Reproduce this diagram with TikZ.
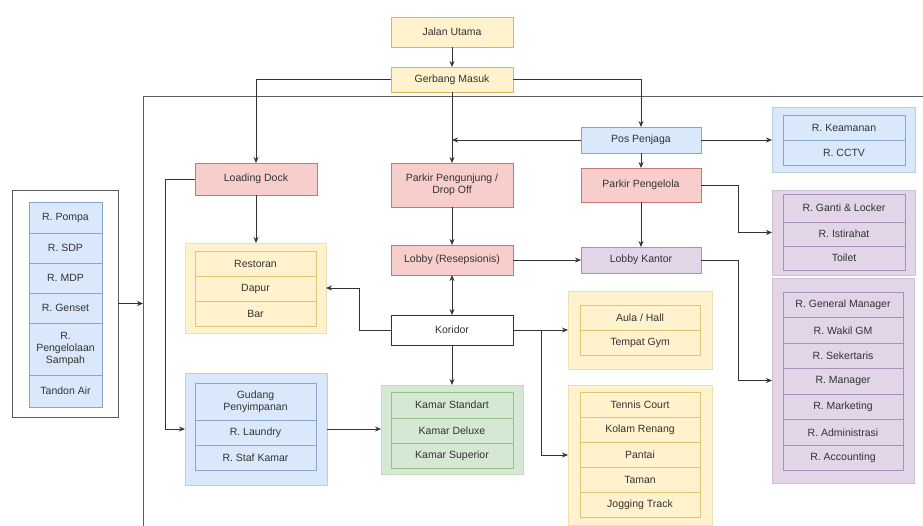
\documentclass[tikz,border=0pt]{standalone}
\usepackage{fontspec}
\setmainfont{Liberation Sans}
\usetikzlibrary{arrows.meta}
\definecolor{txt}{HTML}{333333}
\definecolor{ln}{HTML}{333333}
\definecolor{yF}{HTML}{FFF2CC}\definecolor{yS}{HTML}{D6B656}
\definecolor{pF}{HTML}{F8CECC}\definecolor{pS}{HTML}{B85450}
\definecolor{bF}{HTML}{DAE8FC}\definecolor{bS}{HTML}{6C8EBF}
\definecolor{gF}{HTML}{D5E8D4}\definecolor{gS}{HTML}{82B366}
\definecolor{uF}{HTML}{E1D5E7}\definecolor{uS}{HTML}{9673A6}
\newcommand\boxat[7]{\node[#6, minimum width={(#4-#2)*1pt}, minimum height={(#5-#3)*1pt}] (#1) at ({(#2+#4)/2},{(#3+#5)/2}) {#7};}
\tikzset{
  mybase/.style={rectangle, inner sep=1pt, outer sep=0pt, font=\fontsize{10.5}{12}\selectfont, text=txt, align=center, line width=0.8pt},
  mygrp/.style={rectangle, inner sep=0pt, outer sep=0pt, line width=0.8pt},
  ybox/.style={mybase, draw=yS, fill=yF},
  pbox/.style={mybase, draw=pS!80, fill=pF},
  bbox/.style={mybase, draw=bS!80, fill=bF},
  ubox/.style={mybase, draw=uS!80, fill=uF},
  wbox/.style={mybase, draw=ln, fill=white},
  yrowbox/.style={mybase, draw=yS!80, fill=yF},
  browbox/.style={mybase, draw=bS!80, fill=bF},
  growbox/.style={mybase, draw=gS!80, fill=gF},
  urowbox/.style={mybase, draw=uS!80, fill=uF},
  ygrp/.style={mygrp, draw=yS!45, fill=yF},
  bgrp/.style={mygrp, draw=bS!45, fill=bF},
  ggrp/.style={mygrp, draw=gS!45, fill=gF},
  ugrp/.style={mygrp, draw=uS!45, fill=uF},
  wgrp/.style={mygrp, draw=ln!80, fill=white},
  arr/.style={draw=ln, line width=0.8pt, -{Stealth[length=6pt,width=5pt]}},
  arrb/.style={draw=ln, line width=0.8pt, {Stealth[length=6pt,width=5pt]}-{Stealth[length=6pt,width=5pt]}},
  framel/.style={draw=ln!80, line width=1pt}
}
\begin{document}
\begin{tikzpicture}[x=1pt,y=-1pt]
\useasboundingbox (0,0) rectangle (923,526);
\clip (0,0) rectangle (923,526);
\fill[white] (0,0) rectangle (923,526);
% main frame
\draw[framel] (143,97) rectangle (960,580);
\coordinate (frameL) at (143,303.5);
% top
\boxat{jalan}{391}{17}{513}{47}{ybox}{Jalan Utama}
\boxat{gerbang}{391}{67}{513}{92}{ybox}{Gerbang Masuk}
% pos column
\boxat{pos}{581}{127}{701}{153}{bbox}{Pos Penjaga}
\boxat{parkirpl}{581}{168}{701}{202}{pbox}{Parkir Pengelola}
\boxat{lk}{581}{247}{701}{273}{ubox}{Lobby Kantor}
% keamanan group
\boxat{keam}{772}{107}{915}{172}{bgrp}{}
\boxat{keam1}{783}{115}{905}{140}{browbox}{R. Keamanan}
\boxat{keam2}{783}{140}{905}{165}{browbox}{R. CCTV}
% purple group 1
\boxat{ung1}{772}{190}{915}{275}{ugrp}{}
\boxat{ung1a}{783}{194}{905}{222}{urowbox}{R. Ganti \& Locker}
\boxat{ung1b}{783}{222}{905}{246}{urowbox}{R. Istirahat}
\boxat{ung1c}{783}{246}{905}{270}{urowbox}{Toilet}
% purple group 2
\boxat{ung2}{772}{278}{914}{483}{ugrp}{}
\boxat{ung2a}{783}{292}{903}{317.5}{urowbox}{R. General Manager}
\boxat{ung2b}{783}{317.5}{903}{343}{urowbox}{R. Wakil GM}
\boxat{ung2c}{783}{343}{903}{368.5}{urowbox}{R. Sekertaris}
\boxat{ung2d}{783}{368.5}{903}{394}{urowbox}{R. Manager}
\boxat{ung2e}{783}{394}{903}{419.5}{urowbox}{R. Marketing}
\boxat{ung2f}{783}{419.5}{903}{445}{urowbox}{R. Administrasi}
\boxat{ung2g}{783}{445}{903}{470}{urowbox}{R. Accounting}
% center column
\boxat{parkirpg}{391}{163}{513}{207}{pbox}{Parkir Pengunjung /\\Drop Off}
\boxat{lobby}{391}{245}{513}{275}{pbox}{Lobby (Resepsionis)}
\boxat{koridor}{391}{315}{513}{345}{wbox}{Koridor}
% left column
\boxat{loading}{195}{163}{317}{195}{pbox}{Loading Dock}
\boxat{rest}{185}{243}{326}{333}{ygrp}{}
\boxat{rest1}{195}{251}{316}{276}{yrowbox}{Restoran}
\boxat{rest2}{195}{276}{316}{301}{yrowbox}{Dapur}
\boxat{rest3}{195}{301}{316}{326}{yrowbox}{Bar}
\boxat{gudang}{185}{373}{327}{485}{bgrp}{}
\boxat{gud1}{195}{383}{316}{420}{browbox}{Gudang\\Penyimpanan}
\boxat{gud2}{195}{420}{316}{445}{browbox}{R. Laundry}
\boxat{gud3}{195}{445}{316}{470}{browbox}{R. Staf Kamar}
% kamar
\boxat{kamar}{381}{385}{523}{474}{ggrp}{}
\boxat{kam1}{391}{392}{513}{418}{growbox}{Kamar Standart}
\boxat{kam2}{391}{418}{513}{443}{growbox}{Kamar Deluxe}
\boxat{kam3}{391}{443}{513}{468}{growbox}{Kamar Superior}
% aula & tenis
\boxat{aula}{568}{291}{712}{369}{ygrp}{}
\boxat{aula1}{580}{305}{700}{330}{yrowbox}{Aula / Hall}
\boxat{aula2}{580}{330}{700}{355}{yrowbox}{Tempat Gym}
\boxat{tenis}{568}{385}{712}{525}{ygrp}{}
\boxat{ten1}{580}{392}{700}{417}{yrowbox}{Tennis Court}
\boxat{ten2}{580}{417}{700}{442}{yrowbox}{Kolam Renang}
\boxat{ten3}{580}{442}{700}{467}{yrowbox}{Pantai}
\boxat{ten4}{580}{467}{700}{492}{yrowbox}{Taman}
\boxat{ten5}{580}{492}{700}{517}{yrowbox}{Jogging Track}
% utilities
\boxat{util}{12}{190}{118}{417}{wgrp}{}
\boxat{ut1}{29}{202}{102}{233}{browbox}{R. Pompa}
\boxat{ut2}{29}{233}{102}{263}{browbox}{R. SDP}
\boxat{ut3}{29}{263}{102}{293}{browbox}{R. MDP}
\boxat{ut4}{29}{293}{102}{323}{browbox}{R. Genset}
\boxat{ut5}{29}{323}{102}{375}{browbox}{R.\\Pengelolaan\\Sampah}
\boxat{ut6}{29}{375}{102}{407}{browbox}{Tandon Air}
% bend coordinates
\coordinate (bendA) at (738,0);
\coordinate (bendL) at (165,0);
\coordinate (bendR) at (359,0);
\coordinate (bendT) at (541,0);
% connectors
\draw[arr] (jalan) -- (gerbang);
\draw[arr] (gerbang.west) -| (loading.north);
\draw[arr] (gerbang.east) -| (pos.north);
\draw[arr] (gerbang.south) -- (parkirpg.north);
\draw[arr] (pos.west) -- (pos.west -| gerbang.south);
\draw[arr] (pos.east) -- (pos.east -| keam.west);
\draw[arr] (pos) -- (parkirpl);
\draw[arr] (parkirpl.east) -| (bendA |- ung1.west) -- (ung1.west);
\draw[arr] (parkirpl) -- (lk);
\draw[arr] (lk.east) -| (bendA |- ung2.west) -- (ung2.west);
\draw[arr] (loading.west) -| (bendL |- gudang.west) -- (gudang.west);
\draw[arr] (loading.south) -- (loading.south |- rest.north);
\draw[arr] (parkirpg) -- (lobby);
\draw[arr] (lobby.east) -- (lobby.east -| lk.west);
\draw[arrb] (lobby) -- (koridor);
\draw[arr] (koridor.west) -| (bendR |- rest.east) -- (rest.east);
\draw[arr] (koridor.east) -- (koridor.east -| aula.west);
\draw[arr] (koridor.east -| bendT) |- (tenis.west);
\draw[arr] (koridor) -- (kamar);
\draw[arr] (gudang.east) -- (gudang.east -| kamar.west);
\draw[arr] (util.east) -- (frameL);
\end{tikzpicture}
\end{document}
